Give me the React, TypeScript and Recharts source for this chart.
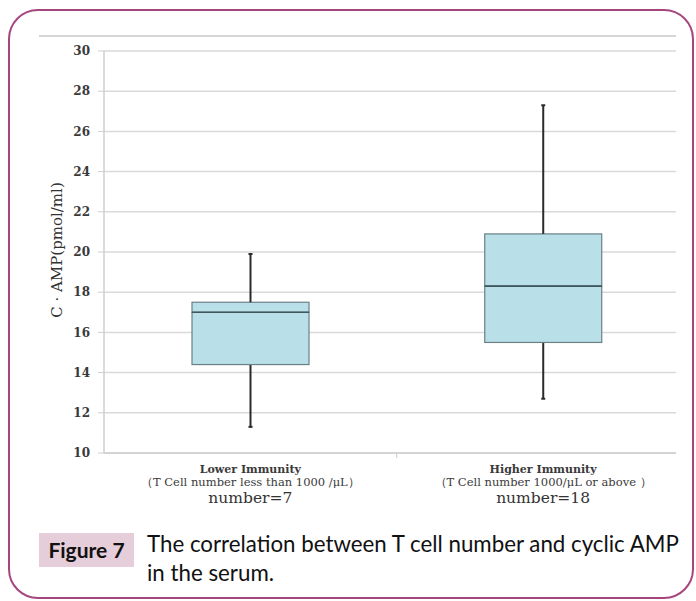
import React from 'react';
import { ComposedChart, Bar, XAxis, YAxis, CartesianGrid } from 'recharts';

// ---- data ----
const groupNames = ['Lower Immunity', 'Higher Immunity'];
const groupNotes = ['（T Cell number less than 1000 /μL）', '（T Cell number 1000/μL or above ）'];
const groupCounts = ['number=7', 'number=18'];
const groupPos = [1, 2];
const boundaryTicks = [1.5];
const whiskerLow = [11.3, 12.7];
const quartile1 = [14.4, 15.5];
const medians = [17.0, 18.3];
const quartile3 = [17.5, 20.9];
const whiskerHigh = [19.9, 27.3];
const yTicks = [10, 12, 14, 16, 18, 20, 22, 24, 26, 28, 30];
const yLabel = 'C · AMP(pmol/ml)';
const figLabel = 'Figure 7';
const captionLines = ['The correlation between T cell number and cyclic AMP', 'in the serum.'];

const data = groupPos.map((x, i) => ({
  x,
  base: whiskerLow[i],
  lowW: quartile1[i] - whiskerLow[i],
  lowBox: medians[i] - quartile1[i],
  highBox: quartile3[i] - medians[i],
  highW: whiskerHigh[i] - quartile3[i],
}));

const BOX_FILL = '#b9dfe8';
const BOX_STROKE = '#6a8086';
const MEDIAN = '#3f565c';
const WHISKER = '#2a2a2a';
const GRID = '#d9d9d9';
const SERIF = '"DejaVu Serif", serif';

const Empty = () => null;

const LowWhisker = (p: any) => {
  const cx = p.x + p.width / 2;
  const bottom = p.y + p.height;
  return (
    <g>
      <line x1={cx} x2={cx} y1={p.y} y2={bottom} stroke={WHISKER} strokeWidth={2} />
      <line x1={cx - 2} x2={cx + 2} y1={bottom} y2={bottom} stroke={WHISKER} strokeWidth={2} />
    </g>
  );
};

const HighWhisker = (p: any) => {
  const cx = p.x + p.width / 2;
  return (
    <g>
      <line x1={cx} x2={cx} y1={p.y} y2={p.y + p.height} stroke={WHISKER} strokeWidth={2} />
      <line x1={cx - 2} x2={cx + 2} y1={p.y} y2={p.y} stroke={WHISKER} strokeWidth={2} />
    </g>
  );
};

const LowBox = (p: any) => (
  <g>
    <rect x={p.x} y={p.y} width={p.width} height={p.height} fill={BOX_FILL} stroke={BOX_STROKE} strokeWidth={1.2} />
  </g>
);

const HighBox = (p: any) => (
  <g>
    <rect x={p.x} y={p.y} width={p.width} height={p.height} fill={BOX_FILL} stroke={BOX_STROKE} strokeWidth={1.2} />
    <line x1={p.x} x2={p.x + p.width} y1={p.y + p.height} y2={p.y + p.height} stroke={MEDIAN} strokeWidth={1.6} />
  </g>
);

const XTick = (props: any) => {
  const { x, y, payload } = props;
  const i = groupPos.indexOf(payload.value);
  if (i < 0) {
    return <line x1={x} x2={x} y1={y} y2={y + 5} stroke="#c8c8c8" strokeWidth={1} />;
  }
  return (
    <g>
      <text x={x} y={y + 20} textAnchor="middle" fontFamily={SERIF} fontSize={11} fontWeight="bold" fill="#3a3a3a">
        {groupNames[i]}
      </text>
      <text x={x} y={y + 33} textAnchor="middle" fontFamily={SERIF} fontSize={11.5} fill="#3a3a3a">
        {groupNotes[i]}
      </text>
      <text x={x} y={y + 50} textAnchor="middle" fontFamily={SERIF} fontSize={15.5} fill="#333">
        {groupCounts[i]}
      </text>
    </g>
  );
};

const YLabel = () => (
  <text
    x={62}
    y={250}
    transform="rotate(-90 62 250)"
    textAnchor="middle"
    fontFamily={SERIF}
    fontSize={15}
    fill="#333"
  >
    {yLabel}
  </text>
);

export default function App() {
  return (
    <div style={{ position: 'absolute', left: 0, top: 0, width: 696, height: 601, background: '#fff', overflow: 'hidden' }}>
      <div
        style={{
          position: 'absolute',
          left: 8,
          top: 9,
          width: 686,
          height: 590,
          boxSizing: 'border-box',
          border: '2px solid #a5467f',
          borderRadius: 30,
        }}
      />
      <div style={{ position: 'absolute', left: 39, top: 35, width: 637, height: 2, background: '#d6d6d6' }} />
      <div style={{ position: 'absolute', left: 0, top: 0 }}>
        <ComposedChart
          width={696}
          height={601}
          data={data}
          margin={{ top: 51, right: 20, left: 44, bottom: 88 }}
        >
          <CartesianGrid horizontal vertical={false} stroke={GRID} strokeWidth={1.5} />
          <XAxis
            type="number"
            dataKey="x"
            domain={[0.5, 2.454]}
            allowDataOverflow
            ticks={[...groupPos, ...boundaryTicks]}
            interval={0}
            tickLine={false}
            tickSize={0}
            tickMargin={0}
            height={60}
            axisLine={{ stroke: '#cfcfcf', strokeWidth: 1.5 }}
            tick={<XTick />}
          />
          <YAxis
            type="number"
            domain={[10, 30]}
            allowDataOverflow
            ticks={yTicks}
            interval={0}
            width={60}
            tickSize={6}
            tickMargin={8}
            axisLine={{ stroke: '#cfcfcf', strokeWidth: 1.5 }}
            tickLine={{ stroke: '#cfcfcf' }}
            tick={{ fontFamily: SERIF, fontSize: 12, fontWeight: 'bold', fill: '#3a3a3a' }}
            label={<YLabel />}
          />
          <Bar dataKey="base" stackId="b" barSize={117} shape={<Empty />} isAnimationActive={false} />
          <Bar dataKey="lowW" stackId="b" barSize={117} shape={<LowWhisker />} isAnimationActive={false} />
          <Bar dataKey="lowBox" stackId="b" barSize={117} shape={<LowBox />} isAnimationActive={false} />
          <Bar dataKey="highBox" stackId="b" barSize={117} shape={<HighBox />} isAnimationActive={false} />
          <Bar dataKey="highW" stackId="b" barSize={117} shape={<HighWhisker />} isAnimationActive={false} />
        </ComposedChart>
      </div>
      <div
        style={{
          position: 'absolute',
          left: 39,
          top: 533,
          width: 95,
          height: 34,
          background: '#e6cdda',
          fontFamily: 'Lato, sans-serif',
          fontWeight: 'bold',
          fontSize: 21,
          color: '#111',
          lineHeight: '34px',
          textAlign: 'center',
        }}
      >
        {figLabel}
      </div>
      <div
        style={{
          position: 'absolute',
          left: 147,
          top: 529,
          fontFamily: 'Lato, sans-serif',
          fontSize: 22.3,
          color: '#111',
          lineHeight: '29px',
          whiteSpace: 'nowrap',
        }}
      >
        {captionLines.map((l, i) => (
          <div key={i}>{l}</div>
        ))}
      </div>
    </div>
  );
}
